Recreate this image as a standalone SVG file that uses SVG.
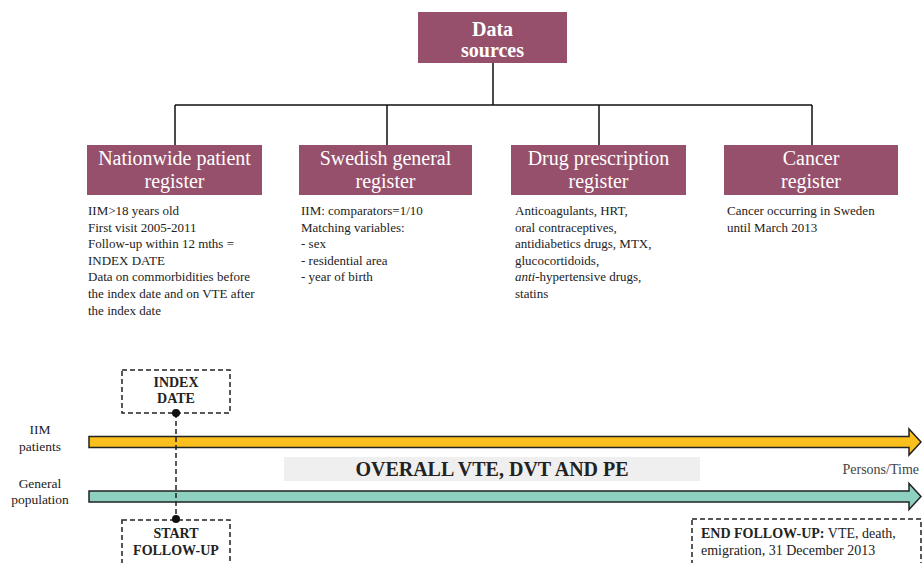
<svg xmlns="http://www.w3.org/2000/svg" width="922" height="563" viewBox="0 0 922 563">
<style>
.box{fill:#97506b;}
.bt{font-family:"Liberation Serif",serif;font-size:20px;fill:#fff;text-anchor:middle;}
.tb{font-family:"Liberation Serif",serif;font-size:20px;font-weight:bold;fill:#fff;text-anchor:middle;}
.p{font-family:"Liberation Serif",serif;font-size:13px;fill:#222;}
.e{font-family:"Liberation Serif",serif;font-size:14px;fill:#222;}
.lab{font-family:"Liberation Serif",serif;font-size:13.5px;fill:#222;text-anchor:middle;}
.db{fill:#fff;stroke:#222;stroke-width:1.5;stroke-dasharray:5,3;}
.dt{font-family:"Liberation Serif",serif;font-size:14px;font-weight:bold;fill:#222;text-anchor:middle;}
.ln{stroke:#111;stroke-width:1.5;fill:none;}
</style>
<rect width="922" height="563" fill="#fff"/>
<g id="connectors">
<path class="ln" d="M493,63 V105 M175,105 H812 M175,105 V146 M387,105 V146 M599,105 V146 M812,105 V146"/>
</g>
<g id="data-sources">
<rect class="box" x="418" y="12" width="149" height="51"/>
<text class="tb" x="492.5" y="36">Data</text>
<text class="tb" x="492.5" y="57">sources</text>
</g>
<g id="nationwide">
<rect class="box" x="87" y="145" width="175" height="50"/>
<text class="bt" x="174.5" y="165">Nationwide patient</text>
<text class="bt" x="174.5" y="188">register</text>
<text class="p" x="88"><tspan x="88" y="215">IIM&gt;18 years old</tspan><tspan x="88" y="231.6">First visit 2005-2011</tspan><tspan x="88" y="248.2">Follow-up within 12 mths =</tspan><tspan x="88" y="264.8">INDEX DATE</tspan><tspan x="88" y="281.4">Data on commorbidities before</tspan><tspan x="88" y="298">the index date and on VTE after</tspan><tspan x="88" y="314.6">the index date</tspan></text>
</g>
<g id="swedish">
<rect class="box" x="299" y="145" width="173" height="50"/>
<text class="bt" x="385.5" y="165">Swedish general</text>
<text class="bt" x="385.5" y="188">register</text>
<text class="p"><tspan x="301" y="215">IIM: comparators=1/10</tspan><tspan x="301" y="231.6">Matching variables:</tspan><tspan x="301" y="248.2">- sex</tspan><tspan x="301" y="264.8">- residential area</tspan><tspan x="301" y="281.4">- year of birth</tspan></text>
</g>
<g id="drug">
<rect class="box" x="511" y="145" width="175" height="50"/>
<text class="bt" x="598.5" y="165">Drug prescription</text>
<text class="bt" x="598.5" y="188">register</text>
<text class="p"><tspan x="515" y="215">Anticoagulants, HRT,</tspan><tspan x="515" y="231.6">oral contraceptives,</tspan><tspan x="515" y="248.2">antidiabetics drugs, MTX,</tspan><tspan x="515" y="264.8">glucocortidoids,</tspan><tspan x="515" y="281.4"><tspan font-style="italic">anti</tspan>-hypertensive drugs,</tspan><tspan x="515" y="298">statins</tspan></text>
</g>
<g id="cancer">
<rect class="box" x="724" y="145" width="174" height="50"/>
<text class="bt" x="811" y="165">Cancer</text>
<text class="bt" x="811" y="188">register</text>
<text class="p"><tspan x="727" y="215">Cancer occurring in Sweden</tspan><tspan x="727" y="231.6">until March 2013</tspan></text>
</g>
<g id="timeline">
<text class="lab" x="40" y="434">IIM</text>
<text class="lab" x="40" y="451">patients</text>
<text class="lab" x="40" y="488">General</text>
<text class="lab" x="40" y="504">population</text>
<rect x="284" y="457" width="416" height="24" fill="#efefef"/>
<text x="492" y="476" font-family="Liberation Serif, serif" font-size="20" font-weight="bold" fill="#222" text-anchor="middle">OVERALL VTE, DVT AND PE</text>
<path d="M89,436.5 H909 V429 L921,442 L909,455 V447.5 H89 Z" fill="#fbbf1e" stroke="#222" stroke-width="1.5"/>
<path d="M89,491 H909 V483.5 L921,496.5 L909,509.5 V502 H89 Z" fill="#8fd1c0" stroke="#222" stroke-width="1.5"/>
<text x="919" y="474" font-family="Liberation Serif, serif" font-size="14" fill="#444" text-anchor="end">Persons/Time</text>
</g>
<g id="index-date">
<rect class="db" x="122" y="370" width="108" height="43"/>
<text class="dt" x="176" y="387">INDEX</text>
<text class="dt" x="176" y="403">DATE</text>
</g>
<g id="start-follow-up">
<rect class="db" x="122" y="520" width="108" height="50"/>
<text class="dt" x="176" y="538">START</text>
<text class="dt" x="176" y="555">FOLLOW-UP</text>
</g>
<g id="marker-line">
<line x1="176" y1="413" x2="176" y2="519" stroke="#222" stroke-width="1.5" stroke-dasharray="5,3"/>
<circle cx="176" cy="413" r="4" fill="#111"/>
<circle cx="176" cy="519" r="4" fill="#111"/>
</g>
<g id="end-follow-up">
<rect class="db" x="692" y="519" width="229" height="50"/>
<text class="e" x="701" y="538"><tspan font-weight="bold">END FOLLOW-UP:</tspan> VTE, death,</text>
<text class="e" x="701" y="555">emigration, 31 December 2013</text>
</g>
</svg>
